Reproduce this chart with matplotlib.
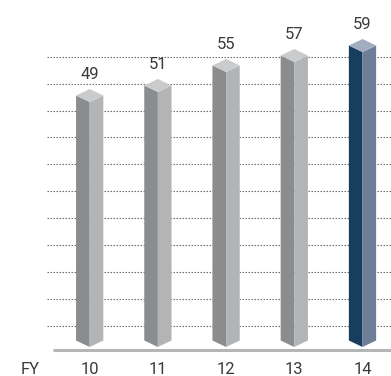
import numpy as np
import matplotlib
matplotlib.use("Agg")
import matplotlib.pyplot as plt
from matplotlib.patches import Polygon

years = ["10", "11", "12", "13", "14"]
values = [49, 51, 55, 57, 59]
highlight = [False, False, False, False, True]

GRAY = {"left": "#8b8c8e", "right": "#b3b4b6", "top": "#cacbcd"}
NAVY = {"left": "#173e5e", "right": "#6f7e97", "top": "#a3adc0"}
TEXT = "#3a3a3a"

plt.rcParams["font.family"] = ["Roboto", "DejaVu Sans"]

fig = plt.figure(figsize=(3.91, 3.76), dpi=100)
ax = fig.add_axes([0, 0, 1, 1])
ax.set_xlim(-1.315, 4.418)
ax.set_ylim(-5.8, 69.4)
ax.axis("off")

# dotted background rules
grid_levels = np.linspace(4.2, 58.06, 11)
ax.hlines(grid_levels, -0.626, 4.418, colors="#6e6e6e", lw=0.8,
          linestyles=(0, (1.35, 1.35)), zorder=1)

# baseline
ax.hlines(-0.54, -0.531, 4.418, colors="#b4b5b7", lw=2.2, zorder=2)

w = 0.2   # half width of a prism
d = 1.3   # depth offset of the faces
for i, (v, hl) in enumerate(zip(values, highlight)):
    c = NAVY if hl else GRAY
    left = [(i - w, d), (i, 0), (i, v), (i - w, v + d)]
    right = [(i, 0), (i + w, d), (i + w, v + d), (i, v)]
    top = [(i - w, v + d), (i, v), (i + w, v + d), (i, v + 2 * d)]
    for pts, key in [(left, "left"), (right, "right"), (top, "top")]:
        ax.add_patch(Polygon(pts, closed=True, facecolor=c[key],
                             edgecolor="none", zorder=3))
    ax.annotate(str(v), (i, v + 2 * d), xytext=(0, 7), textcoords="offset points",
                ha="center", va="baseline", fontsize=12, color=TEXT)
    ax.text(i, -5.4, years[i], ha="center", va="baseline", fontsize=12,
            color=TEXT)

ax.text(-0.868, -5.4, "FY", ha="center", va="baseline", fontsize=12,
        color=TEXT)

plt.savefig("out.png", dpi=100)
plt.close()
